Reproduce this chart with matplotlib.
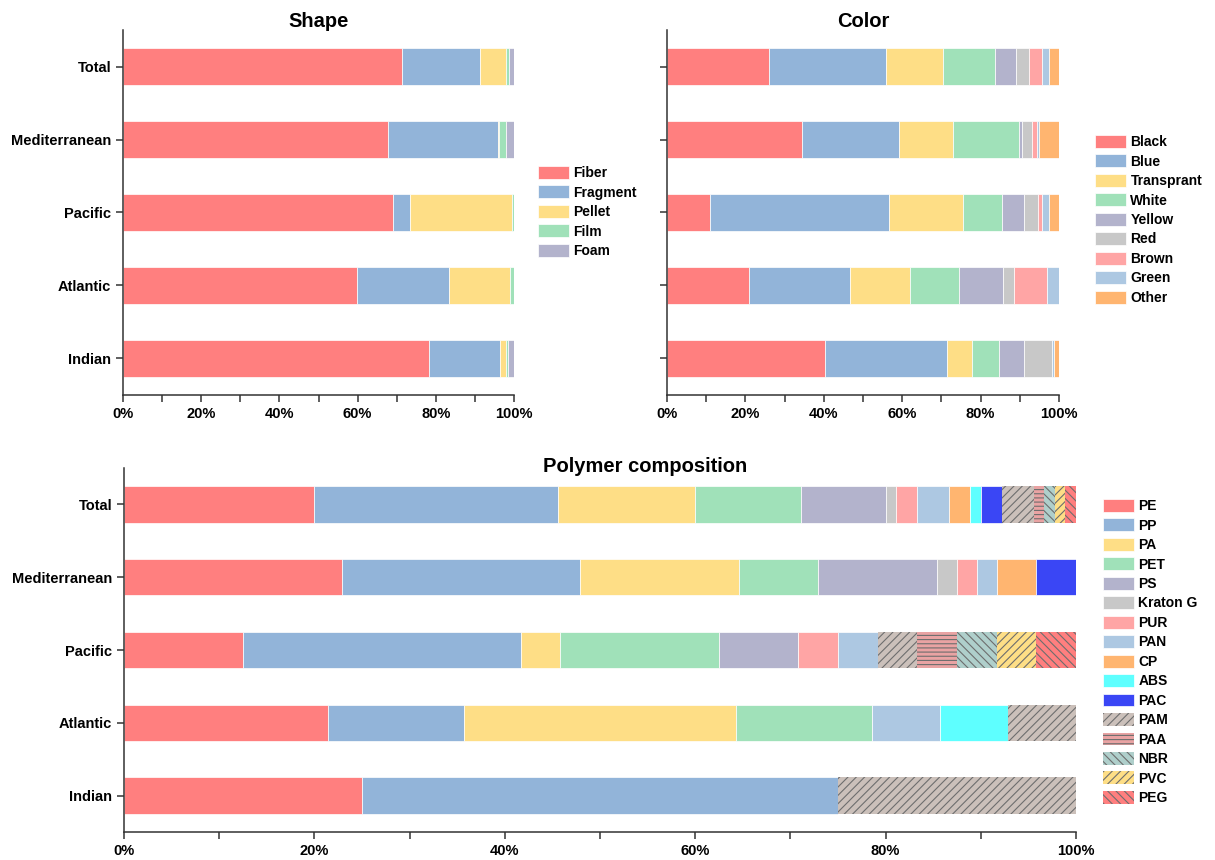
import numpy as np
import matplotlib
matplotlib.use('Agg')
import matplotlib.pyplot as plt

# --- data ---
oceans = ['Total', 'Mediterranean', 'Pacific', 'Atlantic', 'Indian']

# shape share (%), per ocean in the order above
shape_types = ['Fiber', 'Fragment', 'Pellet', 'Film', 'Foam']
shape_fiber = [71.4, 67.8, 69.1, 59.8, 78.3]
shape_fragment = [19.9, 28.1, 4.3, 23.6, 18.2]
shape_pellet = [6.7, 0.3, 26.1, 15.6, 1.5]
shape_film = [0.8, 1.8, 0.5, 1.0, 0.4]
shape_foam = [1.2, 2.0, 0.0, 0.0, 1.6]

# colour share (%)
color_types = ['Black', 'Blue', 'Transprant', 'White', 'Yellow', 'Red', 'Brown', 'Green', 'Other']
color_black = [26.0, 34.4, 11.0, 20.9, 40.3]
color_blue = [29.9, 24.8, 45.6, 25.8, 31.2]
color_transp = [14.4, 13.8, 18.9, 15.3, 6.2]
color_white = [13.4, 16.9, 9.9, 12.5, 7.0]
color_yellow = [5.3, 0.6, 5.7, 11.2, 6.3]
color_red = [3.3, 2.7, 3.5, 2.7, 7.2]
color_brown = [3.4, 1.2, 1.1, 8.6, 0.0]
color_green = [1.7, 0.5, 1.7, 3.0, 0.6]
color_other = [2.6, 5.1, 2.6, 0.0, 1.2]

# polymer particle counts
polymer_types = ['PE', 'PP', 'PA', 'PET', 'PS', 'Kraton G', 'PUR', 'PAN', 'CP', 'ABS',
                 'PAC', 'PAM', 'PAA', 'NBR', 'PVC', 'PEG']
polymer_counts = {
    'PE': [18, 11, 3, 3, 1],
    'PP': [23, 12, 7, 2, 2],
    'PA': [13, 8, 1, 4, 0],
    'PET': [10, 4, 4, 2, 0],
    'PS': [8, 6, 2, 0, 0],
    'Kraton G': [1, 1, 0, 0, 0],
    'PUR': [2, 1, 1, 0, 0],
    'PAN': [3, 1, 1, 1, 0],
    'CP': [2, 2, 0, 0, 0],
    'ABS': [1, 0, 0, 1, 0],
    'PAC': [2, 2, 0, 0, 0],
    'PAM': [3, 0, 1, 1, 1],
    'PAA': [1, 0, 1, 0, 0],
    'NBR': [1, 0, 1, 0, 0],
    'PVC': [1, 0, 1, 0, 0],
    'PEG': [1, 0, 1, 0, 0],
}

# --- style ---
palette = ['#FF7F7F', '#92B4D9', '#FEDE86', '#A0E1B9', '#B3B3CC', '#C8C8C8',
           '#FFA5A5', '#ADC8E2', '#FFB570', '#5EFFFF', '#3A46F5']
hatched = {  # face, hatch
    'PAM': ('#CBC0BA', '////'),
    'PAA': ('#E9A3A3', '----'),
    'NBR': ('#AFCFCB', '\\\\\\\\'),
    'PVC': ('#FEDE86', '////'),
    'PEG': ('#FF7F7F', '\\\\\\\\'),
}

plt.rcParams['font.family'] = ['Liberation Sans', 'DejaVu Sans']
plt.rcParams['font.weight'] = 'bold'
plt.rcParams['hatch.linewidth'] = 0.8
plt.rcParams['axes.linewidth'] = 1.1
plt.rcParams['axes.edgecolor'] = '#333333'

W, H = 1215, 860
fig = plt.figure(figsize=(W / 100, H / 100), dpi=100)


def px_axes(left, top, right, bottom):
    return fig.add_axes([left / W, 1 - bottom / H, (right - left) / W, (bottom - top) / H])


ypos = np.arange(len(oceans))[::-1]


def stacked(ax, series, names, faces, hatches):
    left = np.zeros(len(oceans))
    for vals, name, fc, ht in zip(series, names, faces, hatches):
        vals = np.asarray(vals, dtype=float)
        if ht:
            ax.barh(ypos, vals, left=left, height=0.5, color=fc, edgecolor='#6E6E6E',
                    linewidth=0, hatch=ht, label=name)
        else:
            ax.barh(ypos, vals, left=left, height=0.5, color=fc, edgecolor='white',
                    linewidth=0.5, label=name)
        left += vals


def style(ax, title, show_names=True, title_x=0.5, title_y=1.0):
    ax.set_xlim(0, 100)
    ax.set_ylim(-0.5, 4.5)
    ax.set_xticks(np.arange(0, 101, 20))
    ax.set_xticks(np.arange(10, 100, 20), minor=True)
    ax.set_xticklabels([f'{v}%' for v in range(0, 101, 20)])
    ax.set_yticks(ypos)
    ax.set_yticklabels(oceans if show_names else [])
    ax.tick_params(which='both', direction='out', length=5, width=1.1, color='#333333',
                   labelsize=10.5)
    ax.spines['top'].set_visible(False)
    ax.spines['right'].set_visible(False)
    ax.set_title(title, fontsize=14.5, fontweight='bold', x=title_x, y=title_y, pad=0)


def add_legend(ax, x, y):
    ax.legend(loc='upper left', bbox_to_anchor=(x / W, 1 - y / H),
              bbox_transform=fig.transFigure, frameon=False, fontsize=10,
              handlelength=2.2, handleheight=1.05, handletextpad=0.35,
              labelspacing=0.38, borderpad=0, borderaxespad=0)


# Shape
ax1 = px_axes(123, 30, 514, 395)
stacked(ax1, [shape_fiber, shape_fragment, shape_pellet, shape_film, shape_foam],
        shape_types, palette[:5], [None] * 5)
style(ax1, 'Shape', title_y=1.008)
add_legend(ax1, 538, 166)

# Color
ax2 = px_axes(667, 30, 1059, 395)
stacked(ax2, [color_black, color_blue, color_transp, color_white, color_yellow,
              color_red, color_brown, color_green, color_other],
        color_types, palette[:9], [None] * 9)
style(ax2, 'Color', show_names=False, title_y=1.008)
add_legend(ax2, 1095, 135)

# Polymer composition
ax3 = px_axes(124, 468, 1076, 832)
counts = np.array([polymer_counts[p] for p in polymer_types], dtype=float)
shares = counts / counts.sum(axis=0) * 100
faces, hts = [], []
for i, p in enumerate(polymer_types):
    if p in hatched:
        faces.append(hatched[p][0])
        hts.append(hatched[p][1])
    else:
        faces.append(palette[i])
        hts.append(None)
stacked(ax3, shares, polymer_types, faces, hts)
style(ax3, 'Polymer composition', title_x=0.547, title_y=0.989)
add_legend(ax3, 1103, 499)

fig.savefig('out.png', dpi=100)
